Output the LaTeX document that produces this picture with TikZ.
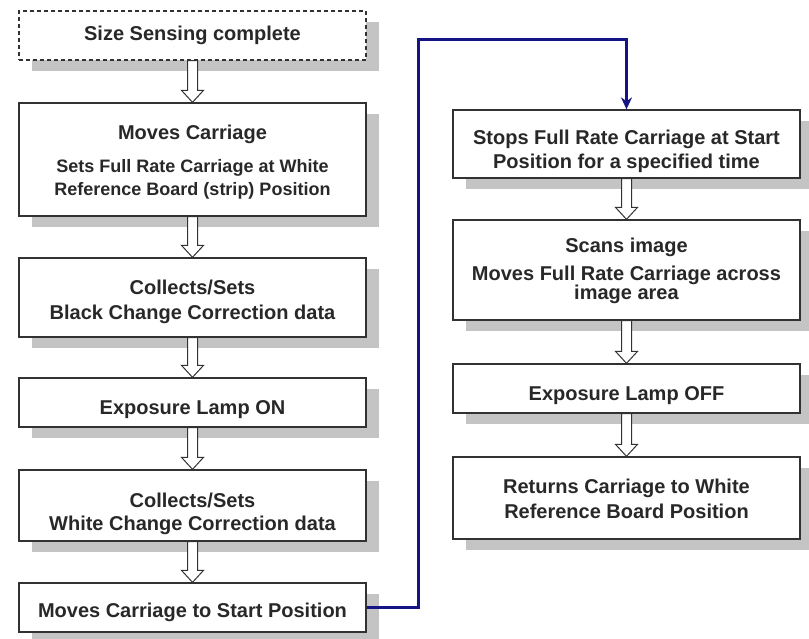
\documentclass[tikz,border=0pt]{standalone}
\usepackage{fontspec}
\setmainfont{Liberation Sans}
\usetikzlibrary{shadows,calc,arrows.meta}
\definecolor{shadowgray}{RGB}{196,196,196}
\definecolor{boxline}{RGB}{50,50,50}
\definecolor{txt}{RGB}{40,40,40}
\definecolor{navyline}{RGB}{20,20,130}
\tikzset{
  stepbox/.style={draw=boxline, line width=1.3pt, fill=white, rectangle,
    minimum width=347pt, inner sep=0pt, align=center, text=txt,
    font=\bfseries\fontsize{20}{23}\selectfont,
    drop shadow={shadow xshift=13pt, shadow yshift=-11pt, fill=shadowgray, opacity=1}},
  dashbox/.style={stepbox, dash pattern=on 4pt off 3pt, line width=1.4pt},
  harrow/.style={draw=boxline, line width=1pt, fill=white, line join=miter},
  blueline/.style={draw=navyline, line width=3pt, -{Stealth[length=12pt,width=11pt]}}
}
\newcommand\dn[1]{\rule{0pt}{#1}}
\newcommand\hollowarrow[2]{%
  \path let \p1=(#1.south), \p2=(#2.north) in
    [harrow] (\x1-5pt,\y1) -- (\x1-5pt,\y2+12pt) -- (\x1-11pt,\y2+12pt) -- (\x1,\y2)
    -- (\x1+11pt,\y2+12pt) -- (\x1+5pt,\y2+12pt) -- (\x1+5pt,\y1) -- cycle;}
\begin{document}
\begin{tikzpicture}[x=1pt,y=-1pt]
\useasboundingbox[fill=white] (0,0) rectangle (809,639);
% left column
\node[dashbox, minimum height=49pt] (b1) at (192.5,35.5) {Size Sensing complete};
\node[stepbox, minimum height=113pt] (b2) at (192.5,159.5) {\dn{19pt}Moves Carriage\\[10pt]{\fontsize{18}{23}\selectfont Sets Full Rate Carriage at White}\\{\fontsize{18}{23}\selectfont Reference Board (strip) Position}};
\node[stepbox, minimum height=79pt] (b3) at (192.5,297.5) {\dn{23pt}Collects/Sets\\[2pt]Black Change Correction data};
\node[stepbox, minimum height=49pt] (b4) at (192.5,402.5) {\dn{28pt}Exposure Lamp ON};
\node[stepbox, minimum height=71pt] (b5) at (192.5,505.5) {\dn{31pt}Collects/Sets\\White Change Correction data};
\node[stepbox, minimum height=49pt] (b6) at (192.5,607.5) {\dn{24pt}Moves Carriage to Start Position};
% right column
\node[stepbox, minimum height=68pt] (r1) at (626.5,144) {\dn{29pt}Stops Full Rate Carriage at Start\\[1pt]Position for a specified time};
\node[stepbox, minimum height=100pt] (r2) at (626.5,270) {\dn{16pt}Scans image\\[5pt]Moves Full Rate Carriage across\\[-4pt]image area};
\node[stepbox, minimum height=49pt] (r3) at (626.5,388.5) {\dn{28pt}Exposure Lamp OFF};
\node[stepbox, minimum height=82pt] (r4) at (626.5,498) {\dn{17pt}Returns Carriage to White\\[2pt]Reference Board Position};
% hollow arrows
\hollowarrow{b1}{b2}
\hollowarrow{b2}{b3}
\hollowarrow{b3}{b4}
\hollowarrow{b4}{b5}
\hollowarrow{b5}{b6}
\hollowarrow{r1}{r2}
\hollowarrow{r2}{r3}
\hollowarrow{r3}{r4}
% blue connector
\coordinate (c1) at (418,40);
\draw[blueline] (b6.east) -| (c1) -| (r1.north);
\end{tikzpicture}
\end{document}
